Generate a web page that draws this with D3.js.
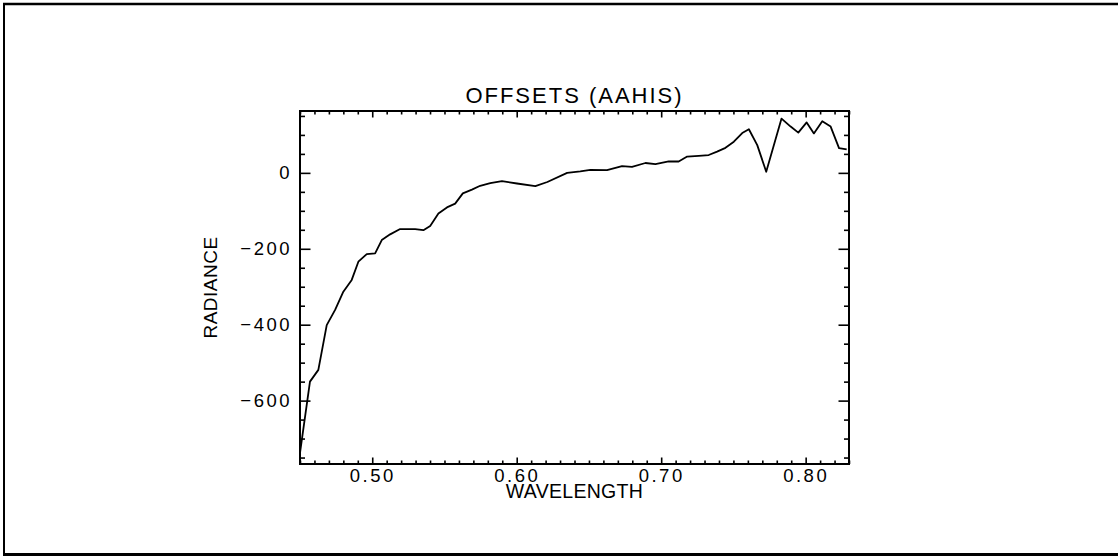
<!DOCTYPE html>
<html><head><meta charset="utf-8">
<script src="https://cdn.jsdelivr.net/npm/d3@7"></script>
<style>
body{margin:0;background:#fff}
svg{display:block}
text{font-family:"Liberation Sans",Arial,sans-serif;fill:#000}
</style>
</head><body>
<svg id="c" width="1118" height="556"></svg>
<script>
const wavelength = [0.4500,0.4569,0.4627,0.4685,0.4743,0.4800,0.4858,0.4904,0.4962,0.5020,
  0.5066,0.5124,0.5193,0.5297,0.5354,0.5401,0.5458,0.5517,0.5574,0.5627,
  0.5690,0.5747,0.5817,0.5898,0.6002,0.6129,0.6212,0.6349,0.6440,0.6510,
  0.6625,0.6729,0.6798,0.6891,0.6960,0.7052,0.7121,0.7180,0.7260,0.7329,
  0.7387,0.7445,0.7503,0.7561,0.7607,0.7665,0.7727,0.7833,0.7896,0.7949,
  0.8007,0.8057,0.8115,0.8173,0.8231,0.8284];
const radiance = [-738,-550,-519,-401,-361,-313,-282,-234,-214,-212,
  -177,-162,-148,-148,-151,-140,-107,-91,-81,-54,
  -44,-34,-27,-22,-28,-35,-24,0,4,8,
  7,18,16,26,23,30,30,43,45,47,
  56,66,82,105,115,73,3,143,122,106,
  133,104,136,122,65,62];
const xDomain = [0.45, 0.83];
const yDomain = [-767, 163];
const xMajorTicks = [0.50, 0.60, 0.70, 0.80];
const yMajorTicks = [0, -200, -400, -600];
const xMinorStep = 0.01;
const yMinorStep = 50;
const titleText = "OFFSETS (AAHIS)";
const xLabelText = "WAVELENGTH";
const yLabelText = "RADIANCE";

const svg = d3.select("#c");
const L = 300, R = 849, T = 111, B = 464;
const x = d3.scaleLinear().domain(xDomain).range([L, R]);
const y = d3.scaleLinear().domain(yDomain).range([B, T]);

// outer border
svg.append("line").attr("x1",3).attr("x2",1118).attr("y1",4).attr("y2",4).attr("stroke","#000").attr("stroke-width",2.5);
svg.append("line").attr("x1",4).attr("x2",4).attr("y1",3).attr("y2",555).attr("stroke","#000").attr("stroke-width",2);
svg.append("line").attr("x1",3).attr("x2",1118).attr("y1",554.5).attr("y2",554.5).attr("stroke","#000").attr("stroke-width",3);

const xMinor = d3.range(Math.ceil(xDomain[0]/xMinorStep), Math.floor(xDomain[1]/xMinorStep)+1)
  .map(i => +(i*xMinorStep).toFixed(2)).filter(v => !xMajorTicks.some(m => Math.abs(m-v)<1e-9));
const yMinor = d3.range(Math.ceil(yDomain[0]/yMinorStep), Math.floor(yDomain[1]/yMinorStep)+1)
  .map(i => i*yMinorStep).filter(v => !yMajorTicks.includes(v));

function style(g){
  g.select(".domain").remove();
  g.selectAll(".tick line").attr("stroke","#000").attr("stroke-width",1.6);
}

// bottom
svg.append("g").attr("transform",`translate(0,${B})`)
  .call(d3.axisBottom(x).tickValues(xMinor).tickSize(-3.5).tickFormat(""))
  .call(style);
const bx = svg.append("g").attr("transform",`translate(0,${B})`)
  .call(d3.axisBottom(x).tickValues(xMajorTicks).tickSize(-6.5).tickPadding(5).tickFormat(d3.format(".2f")))
  .call(style);
bx.selectAll("text").attr("font-size","18.5px").attr("letter-spacing","2.5px").attr("font-family","Liberation Sans");
// top
svg.append("g").attr("transform",`translate(0,${T})`)
  .call(d3.axisTop(x).tickValues(xMinor).tickSize(-3.5).tickFormat(""))
  .call(style);
svg.append("g").attr("transform",`translate(0,${T})`)
  .call(d3.axisTop(x).tickValues(xMajorTicks).tickSize(-6.5).tickFormat(""))
  .call(style);
// left
svg.append("g").attr("transform",`translate(${L},0)`)
  .call(d3.axisLeft(y).tickValues(yMinor).tickSize(-5).tickFormat(""))
  .call(style);
const ly = svg.append("g").attr("transform",`translate(${L},0)`)
  .call(d3.axisLeft(y).tickValues(yMajorTicks).tickSize(-10.5).tickPadding(8).tickFormat(d3.format("d")))
  .call(style);
ly.selectAll("text").attr("font-size","18.5px").attr("letter-spacing","2.5px").attr("font-family","Liberation Sans");
// right
svg.append("g").attr("transform",`translate(${R},0)`)
  .call(d3.axisRight(y).tickValues(yMinor).tickSize(-5).tickFormat(""))
  .call(style);
svg.append("g").attr("transform",`translate(${R},0)`)
  .call(d3.axisRight(y).tickValues(yMajorTicks).tickSize(-10.5).tickFormat(""))
  .call(style);

// frame
svg.append("rect").attr("x",L).attr("y",T).attr("width",R-L).attr("height",B-T)
  .attr("fill","none").attr("stroke","#000").attr("stroke-width",2);

// data line
const pts = wavelength.map((w,i)=>[w, radiance[i]]);
svg.append("path").datum(pts)
  .attr("fill","none").attr("stroke","#000").attr("stroke-width",1.8).attr("stroke-linejoin","round")
  .attr("d", d3.line().x(d=>x(d[0])).y(d=>y(d[1])));

// titles
svg.append("text").attr("x",(L+R)/2).attr("y",103).attr("text-anchor","middle")
  .attr("font-size","22px").attr("letter-spacing","2px").text(titleText);
svg.append("text").attr("x",(L+R)/2).attr("y",498).attr("text-anchor","middle")
  .attr("font-size","19.5px").attr("letter-spacing","0.3px").text(xLabelText);
svg.append("text").attr("transform",`translate(217,${(T+B)/2}) rotate(-90)`).attr("text-anchor","middle")
  .attr("font-size","19px").attr("letter-spacing","0.5px").text(yLabelText);
</script>
</body></html>
